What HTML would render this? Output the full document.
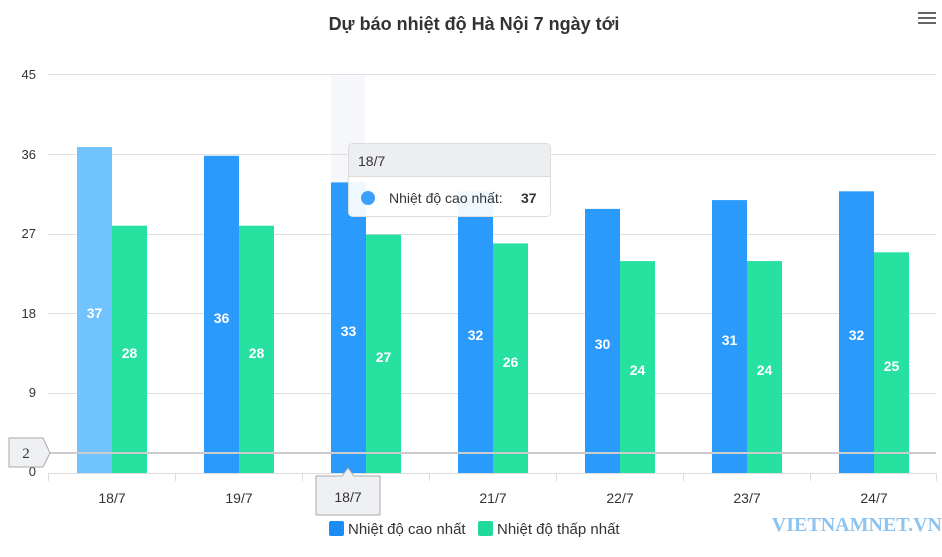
<!DOCTYPE html>
<html><head><meta charset="utf-8"><style>
body{margin:0;background:#fff;}
svg{display:block;font-family:"Liberation Sans",sans-serif;}
</style></head><body>
<svg width="942" height="557" viewBox="0 0 942 557" xmlns="http://www.w3.org/2000/svg">
<rect width="942" height="557" fill="#fff"/>
<text x="474" y="30" text-anchor="middle" font-size="18" font-weight="bold" fill="#333">Dự báo nhiệt độ Hà Nội 7 ngày tới</text>
<g stroke="#666" stroke-width="2"><line x1="918" y1="13" x2="936" y2="13"/><line x1="918" y1="18" x2="936" y2="18"/><line x1="918" y1="23" x2="936" y2="23"/></g>
<rect x="331" y="74" width="34" height="399" fill="#f5f7fa"/>
<g stroke="#e0e0e0" stroke-width="1">
<line x1="48" y1="74.5" x2="936" y2="74.5"/><line x1="48" y1="154.5" x2="936" y2="154.5"/><line x1="48" y1="234.5" x2="936" y2="234.5"/><line x1="48" y1="313.5" x2="936" y2="313.5"/><line x1="48" y1="393.5" x2="936" y2="393.5"/>
</g>
<g font-size="13" fill="#333" text-anchor="end">
<text x="36" y="79">45</text><text x="36" y="159">36</text><text x="36" y="238">27</text><text x="36" y="318">18</text><text x="36" y="397">9</text><text x="36" y="476">0</text>
</g>
<g id="bars">
<rect x="77" y="147" width="35" height="326" fill="#70c3fd"/><rect x="112" y="225.7" width="35" height="247.3" fill="#27e1a0"/>
<rect x="204" y="155.8" width="35" height="317.2" fill="#2a9bfd"/><rect x="239" y="225.7" width="35" height="247.3" fill="#27e1a0"/>
<rect x="331" y="182.4" width="35" height="290.6" fill="#2a9bfd"/><rect x="366" y="234.6" width="35" height="238.4" fill="#27e1a0"/>
<rect x="458" y="191.3" width="35" height="281.7" fill="#2a9bfd"/><rect x="493" y="243.4" width="35" height="229.6" fill="#27e1a0"/>
<rect x="585" y="208.9" width="35" height="264.1" fill="#2a9bfd"/><rect x="620" y="261.1" width="35" height="211.9" fill="#27e1a0"/>
<rect x="712" y="200.1" width="35" height="272.9" fill="#2a9bfd"/><rect x="747" y="261.1" width="35" height="211.9" fill="#27e1a0"/>
<rect x="839" y="191.3" width="35" height="281.7" fill="#2a9bfd"/><rect x="874" y="252.3" width="35" height="220.7" fill="#27e1a0"/>
</g>
<g font-size="14" font-weight="bold" fill="#fff" text-anchor="middle">
<text x="94.5" y="318">37</text><text x="129.5" y="358">28</text>
<text x="221.5" y="323">36</text><text x="256.5" y="358">28</text>
<text x="348.5" y="336">33</text><text x="383.5" y="362">27</text>
<text x="475.5" y="340">32</text><text x="510.5" y="367">26</text>
<text x="602.5" y="349">30</text><text x="637.5" y="375">24</text>
<text x="729.5" y="345">31</text><text x="764.5" y="375">24</text>
<text x="856.5" y="340">32</text><text x="891.5" y="371">25</text>
</g>
<line x1="48" y1="453" x2="936" y2="453" stroke="#ccc" stroke-width="2"/>
<line x1="48" y1="473.5" x2="936" y2="473.5" stroke="#ddd" stroke-width="1"/>
<g stroke="#ddd"><line x1="48.5" y1="473" x2="48.5" y2="481"/><line x1="175.5" y1="473" x2="175.5" y2="481"/><line x1="302.5" y1="473" x2="302.5" y2="481"/><line x1="429.5" y1="473" x2="429.5" y2="481"/><line x1="556.5" y1="473" x2="556.5" y2="481"/><line x1="683.5" y1="473" x2="683.5" y2="481"/><line x1="810.5" y1="473" x2="810.5" y2="481"/><line x1="936.5" y1="473" x2="936.5" y2="481"/></g>
<g font-size="14" fill="#333" text-anchor="middle">
<text x="112" y="503">18/7</text><text x="239" y="503">19/7</text><text x="366" y="503" fill="#aaa">20/7</text><text x="493" y="503">21/7</text><text x="620" y="503">22/7</text><text x="747" y="503">23/7</text><text x="874" y="503">24/7</text>
</g>
<path d="M9,438 H43 L50,453 L43,467 H9 Z" fill="#eef0f3" stroke="#aaa"/>
<text x="26" y="458" font-size="15" text-anchor="middle" fill="#333" font-family="Liberation Serif,serif">2</text>
<path d="M316,476 H342 L348,468 L354,476 H380 V515 H316 Z" fill="#eef0f3" stroke="#aaa"/>
<text x="348" y="502" font-size="14" text-anchor="middle" fill="#333">18/7</text>
<rect x="348.5" y="143.5" width="202" height="73" rx="4" fill="#fff" fill-opacity="0.93" stroke="#ddd"/>
<path d="M349,176 V147.5 Q349,144 353,144 H546 Q550,144 550,147.5 V176 Z" fill="#eceef1"/>
<line x1="349" y1="176.5" x2="550" y2="176.5" stroke="#ddd"/>
<text x="358" y="166" font-size="14" fill="#333">18/7</text>
<circle cx="368" cy="198" r="7" fill="#3aa0fb"/>
<text x="389" y="203" font-size="14" fill="#333">Nhiệt độ cao nhất:</text>
<text x="521" y="203" font-size="14" font-weight="bold" fill="#333">37</text>
<rect x="329" y="521" width="15" height="15" rx="2" fill="#1a8cf4"/>
<text x="348" y="534" font-size="15" fill="#333">Nhiệt độ cao nhất</text>
<rect x="478" y="521" width="15" height="15" rx="2" fill="#21d99a"/>
<text x="497" y="534" font-size="15" fill="#333">Nhiệt độ thấp nhất</text>
<text x="942" y="531" font-size="20" font-weight="bold" text-anchor="end" fill="#8ec4f0" font-family="Liberation Serif,serif">VIETNAMNET.VN</text>
</svg>
</body></html>
